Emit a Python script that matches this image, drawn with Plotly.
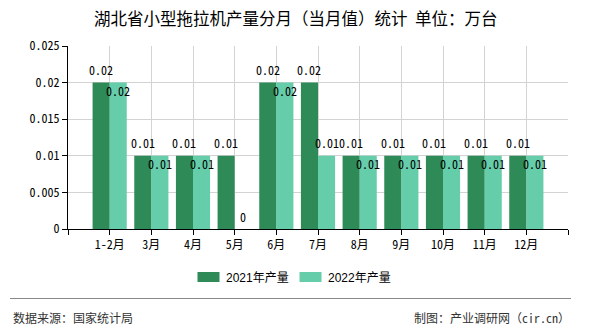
import plotly.graph_objects as go

categories = ["1-2月", "3月", "4月", "5月", "6月", "7月", "8月", "9月", "10月", "11月", "12月"]
series_2021 = [0.02, 0.01, 0.01, 0.01, 0.02, 0.02, 0.01, 0.01, 0.01, 0.01, 0.01]
series_2022 = [0.02, 0.01, 0.01, 0, 0.02, 0.01, 0.01, 0.01, 0.01, 0.01, 0.01]
name_2021 = "2021年产量"
name_2022 = "2022年产量"
y_ticks = [0, 0.005, 0.01, 0.015, 0.02, 0.025]
y_ticktext = ["0", "0.005", "0.01", "0.015", "0.02", "0.025"]
title_text = "湖北省小型拖拉机产量分月（当月值）统计&nbsp;&nbsp;单位：万台"
source_text = "数据来源：国家统计局"
credit_text = "制图：产业调研网（cir.cn）"

C1 = "#2e8b57"
C2 = "#66cdaa"
MONO = "Noto Sans Mono CJK SC, Liberation Mono, monospace"
SANS = "Noto Sans CJK SC, sans-serif"

W, H = 590, 330
L, R, T, B = 68, 22, 46, 101
PW, PH = W - L - R, H - T - B


def px(x):
    return (x - L) / PW


def py(y):
    return (H - B - y) / PH


xs = list(range(len(categories)))
fig = go.Figure()
fig.add_bar(x=xs, y=series_2021, name=name_2021, marker=dict(color=C1, line=dict(width=0)))
fig.add_bar(x=xs, y=series_2022, name=name_2022, marker=dict(color=C2, line=dict(width=0)))

annotations = []
off = 0.205
for i, (a, b) in enumerate(zip(series_2021, series_2022)):
    annotations.append(dict(x=i - off, y=a, xref="x", yref="y", text=f"{a:g}", showarrow=False,
                            yshift=13, font=dict(family=MONO, size=12, color="#000")))
    shift = -8 if (b == a and b != 0) else 13
    annotations.append(dict(x=i + off, y=b, xref="x", yref="y", text=f"{b:g}", showarrow=False,
                            yshift=shift, font=dict(family=MONO, size=12, color="#000")))

# title
annotations.append(dict(x=px(295), y=py(18), xref="paper", yref="paper", text=title_text, showarrow=False,
                        xanchor="center", yanchor="middle", font=dict(family=SANS, size=16.5, color="#000")))
# legend
shapes = []
for sx, col, name in [(197.5, C1, name_2021), (299.5, C2, name_2022)]:
    shapes.append(dict(type="rect", xref="paper", yref="paper", x0=px(sx), x1=px(sx + 22),
                       y0=py(282), y1=py(272), fillcolor=col, line=dict(width=0)))
    annotations.append(dict(x=px(sx + 26), y=py(277.5), xref="paper", yref="paper", text=name,
                            showarrow=False, xanchor="left", yanchor="middle",
                            font=dict(family="Liberation Sans, Noto Sans CJK SC, sans-serif", size=12, color="#000")))
# separator
shapes.append(dict(type="line", xref="paper", yref="paper", x0=px(10), x1=px(571), y0=py(298.5), y1=py(298.5),
                   line=dict(color="#888888", width=1)))
annotations.append(dict(x=px(11), y=py(317), xref="paper", yref="paper", text=source_text, showarrow=False,
                        xanchor="left", yanchor="middle", font=dict(family=SANS, size=12, color="#333")))
annotations.append(dict(x=px(572), y=py(317), xref="paper", yref="paper", text=credit_text, showarrow=False,
                        xanchor="right", yanchor="middle", font=dict(family=MONO, size=12, color="#333")))

fig.update_layout(
    width=W, height=H, margin=dict(l=L, r=R, t=T, b=B),
    paper_bgcolor="white", plot_bgcolor="white",
    barmode="group", bargap=0.18, bargroupgap=0,
    showlegend=False,
    annotations=annotations, shapes=shapes,
    xaxis=dict(range=[-1, len(categories)], tickmode="array",
               tickvals=list(range(-1, len(categories) + 1)),
               ticktext=[""] + categories + [""],
               showgrid=True, gridcolor="#d3d3d3", gridwidth=1,
               showline=True, linecolor="#000", linewidth=1,
               ticks="outside", ticklen=5, tickcolor="#000",
               tickfont=dict(family=MONO, size=12, color="#000"), zeroline=False, fixedrange=True),
    yaxis=dict(range=[0, 0.025], tickmode="array", tickvals=y_ticks, ticktext=y_ticktext,
               showgrid=True, gridcolor="#d3d3d3", gridwidth=1,
               showline=True, linecolor="#000", linewidth=1,
               ticks="outside", ticklen=5, tickcolor="#000",
               tickfont=dict(family=MONO, size=12, color="#000"), zeroline=False, fixedrange=True),
)
fig.write_html("out.html")
